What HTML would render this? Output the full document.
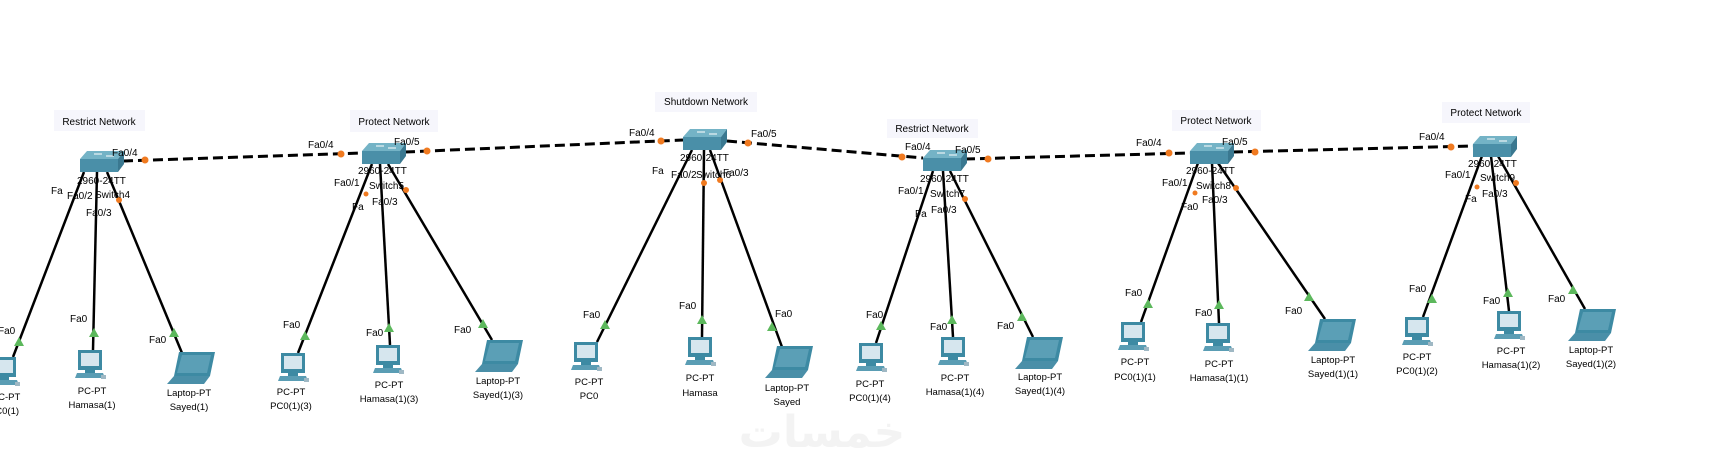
<!DOCTYPE html>
<html><head><meta charset="utf-8"><style>
html,body{margin:0;padding:0;background:#fff;}
svg{display:block;font-family:"Liberation Sans",sans-serif;}
.t{font-size:10px;fill:#000;}
.n{font-size:10px;fill:#000;text-anchor:middle;}
.s{font-size:9.5px;fill:#000;text-anchor:middle;}
</style></head><body>
<svg width="1712" height="463" viewBox="0 0 1712 463" xmlns="http://www.w3.org/2000/svg">
<defs>
<g id="pc">
<rect x="4" y="0" width="24" height="20" fill="#3d8aa3"/>
<rect x="7" y="3" width="18" height="13" fill="#d6e6ee"/>
<rect x="11" y="20" width="10" height="3" fill="#3d8aa3"/>
<polygon points="3,23 29,23 31,28 1,28" fill="#5a9db4"/>
<rect x="27" y="25" width="5" height="4" fill="#9fb8c4"/>
</g>
<g id="lap">
<polygon points="12,0 48,0 43,24 7,24" fill="#3d8aa3"/>
<polygon points="15,3 44,3 40,21 10,21" fill="#5b9fb6"/>
<polygon points="7,24 43,24 37,32 0,32" fill="#4a8fa8"/>
</g>
<g id="sw">
<polygon points="7,0 44,0 38,8 0,8" fill="#74b3c6"/>
<path d="M14,3 h8 M26,5 h8" stroke="#fff" stroke-width="1"/>
<rect x="0" y="8" width="38" height="13" fill="#4a8fa8"/>
<polygon points="38,8 44,0 44,13 38,21" fill="#3a7890"/>
</g>
<polygon id="ga" points="0,-6 5,3 -5,3" fill="#5cb85c"/>
</defs>

<text x="822" y="447" font-family="DejaVu Sans,sans-serif" font-size="44" font-weight="bold" fill="#f3f3f3" text-anchor="middle">خمسات</text>

<g stroke="#000" stroke-width="3" stroke-dasharray="10,5" fill="none">
<line x1="123" y1="161" x2="362" y2="153"/>
<line x1="405" y1="152" x2="683" y2="140"/>
<line x1="727" y1="141" x2="923" y2="158"/>
<line x1="965" y1="159" x2="1190" y2="153"/>
<line x1="1233" y1="152" x2="1473" y2="146"/>
</g>
<g fill="#f07a20">
<circle cx="145" cy="160" r="3.5"/><circle cx="341" cy="154" r="3.5"/>
<circle cx="427" cy="151" r="3.5"/><circle cx="661" cy="141" r="3.5"/>
<circle cx="748" cy="143" r="3.5"/><circle cx="902" cy="157" r="3.5"/>
<circle cx="988" cy="159" r="3.5"/><circle cx="1169" cy="153" r="3.5"/>
<circle cx="1255" cy="152" r="3.5"/><circle cx="1451" cy="147" r="3.5"/>
</g>

<g stroke="#000" stroke-width="2.5">
<line x1="84" y1="172" x2="13" y2="357"/><line x1="97" y1="172" x2="93" y2="350"/><line x1="107" y1="172" x2="182" y2="353"/>
<line x1="372" y1="164" x2="298" y2="353"/><line x1="380" y1="164" x2="390" y2="345"/><line x1="388" y1="164" x2="492" y2="340"/>
<line x1="692" y1="150" x2="597" y2="342"/><line x1="704" y1="150" x2="702" y2="337"/><line x1="710" y1="150" x2="782" y2="347"/>
<line x1="933" y1="171" x2="876" y2="343"/><line x1="943" y1="171" x2="953" y2="337"/><line x1="950" y1="171" x2="1033" y2="337"/>
<line x1="1198" y1="163" x2="1141" y2="322"/><line x1="1212" y1="163" x2="1219" y2="323"/><line x1="1218" y1="163" x2="1325" y2="319"/>
<line x1="1482" y1="156" x2="1423" y2="317"/><line x1="1491" y1="156" x2="1509" y2="311"/><line x1="1498" y1="156" x2="1585" y2="309"/>
</g>
<g fill="#f07a20">
<circle cx="119" cy="200" r="3"/><circle cx="406" cy="190" r="3"/><circle cx="366" cy="194" r="2.5"/>
<circle cx="704" cy="183" r="3"/><circle cx="720" cy="180" r="3"/>
<circle cx="965" cy="199" r="3"/><circle cx="1236" cy="188" r="3"/><circle cx="1195" cy="193" r="2.5"/>
<circle cx="1516" cy="183" r="3"/><circle cx="1477" cy="187" r="2.5"/>
</g>

<use href="#ga" x="19" y="343"/><use href="#ga" x="94" y="334"/><use href="#ga" x="174" y="334"/>
<use href="#ga" x="305" y="337"/><use href="#ga" x="389" y="329"/><use href="#ga" x="483" y="325"/>
<use href="#ga" x="605" y="326"/><use href="#ga" x="702" y="321"/><use href="#ga" x="772" y="328"/>
<use href="#ga" x="881" y="327"/><use href="#ga" x="952" y="321"/><use href="#ga" x="1022" y="318"/>
<use href="#ga" x="1148" y="305"/><use href="#ga" x="1219" y="306"/><use href="#ga" x="1309" y="298"/>
<use href="#ga" x="1432" y="300"/><use href="#ga" x="1508" y="294"/><use href="#ga" x="1573" y="291"/>

<g class="t">
<text x="-2" y="334">Fa0</text><text x="70" y="322">Fa0</text><text x="149" y="343">Fa0</text>
<text x="283" y="328">Fa0</text><text x="366" y="336">Fa0</text><text x="454" y="333">Fa0</text>
<text x="583" y="318">Fa0</text><text x="679" y="309">Fa0</text><text x="775" y="317">Fa0</text>
<text x="866" y="318">Fa0</text><text x="930" y="330">Fa0</text><text x="997" y="329">Fa0</text>
<text x="1125" y="296">Fa0</text><text x="1195" y="316">Fa0</text><text x="1285" y="314">Fa0</text>
<text x="1409" y="292">Fa0</text><text x="1483" y="304">Fa0</text><text x="1548" y="302">Fa0</text>
</g>

<use href="#pc" x="-12" y="357"/><use href="#pc" x="74" y="350"/><use href="#lap" x="167" y="352"/>
<use href="#pc" x="277" y="353"/><use href="#pc" x="372" y="345"/><use href="#lap" x="475" y="340"/>
<use href="#pc" x="570" y="342"/><use href="#pc" x="684" y="337"/><use href="#lap" x="765" y="346"/>
<use href="#pc" x="855" y="343"/><use href="#pc" x="937" y="337"/><use href="#lap" x="1015" y="337"/>
<use href="#pc" x="1117" y="322"/><use href="#pc" x="1202" y="323"/><use href="#lap" x="1308" y="319"/>
<use href="#pc" x="1401" y="317"/><use href="#pc" x="1493" y="311"/><use href="#lap" x="1568" y="309"/>

<g class="s">
<text x="6" y="400">PC-PT</text><text x="4" y="414">PC0(1)</text>
<text x="92" y="394">PC-PT</text><text x="92" y="408">Hamasa(1)</text>
<text x="189" y="396">Laptop-PT</text><text x="189" y="410">Sayed(1)</text>
<text x="291" y="395">PC-PT</text><text x="291" y="409">PC0(1)(3)</text>
<text x="389" y="388">PC-PT</text><text x="389" y="402">Hamasa(1)(3)</text>
<text x="498" y="384">Laptop-PT</text><text x="498" y="398">Sayed(1)(3)</text>
<text x="589" y="385">PC-PT</text><text x="589" y="399">PC0</text>
<text x="700" y="381">PC-PT</text><text x="700" y="396">Hamasa</text>
<text x="787" y="391">Laptop-PT</text><text x="787" y="405">Sayed</text>
<text x="870" y="387">PC-PT</text><text x="870" y="401">PC0(1)(4)</text>
<text x="955" y="381">PC-PT</text><text x="955" y="395">Hamasa(1)(4)</text>
<text x="1040" y="380">Laptop-PT</text><text x="1040" y="394">Sayed(1)(4)</text>
<text x="1135" y="365">PC-PT</text><text x="1135" y="380">PC0(1)(1)</text>
<text x="1219" y="367">PC-PT</text><text x="1219" y="381">Hamasa(1)(1)</text>
<text x="1333" y="363">Laptop-PT</text><text x="1333" y="377">Sayed(1)(1)</text>
<text x="1417" y="360">PC-PT</text><text x="1417" y="374">PC0(1)(2)</text>
<text x="1511" y="354">PC-PT</text><text x="1511" y="368">Hamasa(1)(2)</text>
<text x="1591" y="353">Laptop-PT</text><text x="1591" y="367">Sayed(1)(2)</text>
</g>

<g>
<rect x="54" y="110" width="91" height="21" fill="#f6f6fc"/><text class="n" x="99" y="125">Restrict Network</text>
<rect x="350" y="110" width="88" height="22" fill="#f6f6fc"/><text class="n" x="394" y="125">Protect Network</text>
<rect x="655" y="92" width="102" height="20" fill="#f6f6fc"/><text class="n" x="706" y="105">Shutdown Network</text>
<rect x="887" y="119" width="91" height="19" fill="#f6f6fc"/><text class="n" x="932" y="132">Restrict Network</text>
<rect x="1172" y="110" width="89" height="21" fill="#f6f6fc"/><text class="n" x="1216" y="124">Protect Network</text>
<rect x="1442" y="102" width="88" height="21" fill="#f6f6fc"/><text class="n" x="1486" y="116">Protect Network</text>
</g>

<use href="#sw" x="80" y="151"/><use href="#sw" x="362" y="143"/><use href="#sw" x="683" y="129"/>
<use href="#sw" x="923" y="150"/><use href="#sw" x="1190" y="143"/><use href="#sw" x="1473" y="136"/>

<g class="t">
<text x="112" y="156">Fa0/4</text><text x="77" y="184">2960-24TT</text><text x="51" y="194">Fa</text><text x="67" y="199">Fa0/2</text><text x="95" y="198">Switch4</text><text x="86" y="216">Fa0/3</text>
<text x="308" y="148">Fa0/4</text><text x="394" y="145">Fa0/5</text><text x="358" y="174">2960-24TT</text><text x="334" y="186">Fa0/1</text><text x="369" y="189">Switch5</text><text x="352" y="210">Fa</text><text x="372" y="205">Fa0/3</text>
<text x="629" y="136">Fa0/4</text><text x="751" y="137">Fa0/5</text><text x="680" y="161">2960-24TT</text><text x="652" y="174">Fa</text><text x="671" y="178">Fa0/2</text><text x="696" y="178">Switch6</text><text x="723" y="176">Fa0/3</text>
<text x="905" y="150">Fa0/4</text><text x="955" y="153">Fa0/5</text><text x="920" y="182">2960-24TT</text><text x="898" y="194">Fa0/1</text><text x="930" y="197">Switch7</text><text x="915" y="217">Fa</text><text x="931" y="213">Fa0/3</text>
<text x="1136" y="146">Fa0/4</text><text x="1222" y="145">Fa0/5</text><text x="1186" y="174">2960-24TT</text><text x="1162" y="186">Fa0/1</text><text x="1196" y="189">Switch8</text><text x="1181" y="210">Fa0</text><text x="1202" y="203">Fa0/3</text>
<text x="1419" y="140">Fa0/4</text><text x="1468" y="167">2960-24TT</text><text x="1445" y="178">Fa0/1</text><text x="1480" y="181">Switch9</text><text x="1465" y="202">Fa</text><text x="1482" y="197">Fa0/3</text>
</g>
</svg>
</body></html>
